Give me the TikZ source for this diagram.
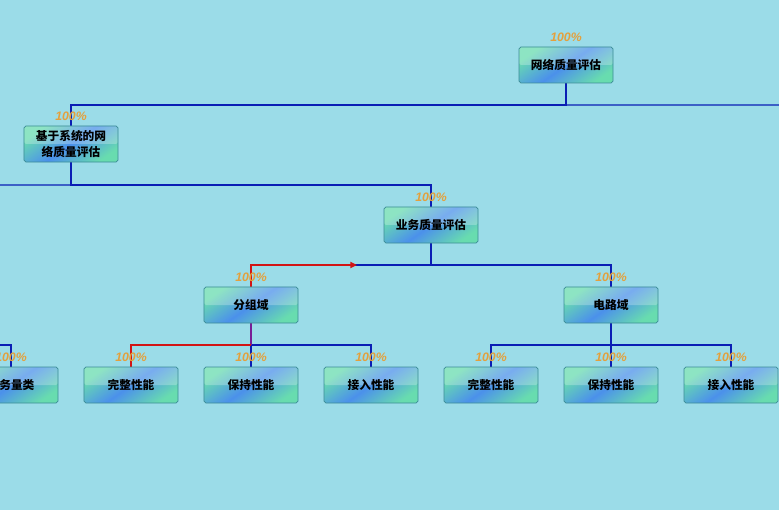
\documentclass[tikz,border=0pt]{standalone}
\usepackage{fontspec}
\newfontfamily\cjk{Noto Sans CJK SC}
\newfontfamily\sofont{Liberation Sans}
\usetikzlibrary{arrows.meta,backgrounds}

\definecolor{nen}{RGB}{155,220,232}
\definecolor{xanhla}{RGB}{96,220,166}
\definecolor{xanhduong}{RGB}{62,132,236}
\definecolor{vien}{RGB}{60,140,150}
\definecolor{daynoi}{RGB}{10,30,180}
\definecolor{dayndo}{RGB}{210,20,20}
\definecolor{camtim}{RGB}{120,30,150}
\definecolor{cam}{RGB}{228,160,60}

\tikzset{
  phantram/.style={font=\sofont\bfseries\itshape\fontsize{10.5}{12}\selectfont,
    text=cam, inner sep=0pt},
  hop/.style={draw=vien, line width=0.6pt, rounded corners=1.6pt,
    minimum width=2.82cm, minimum height=1.08cm, inner sep=0pt, outer sep=0pt,
    top color=xanhla, bottom color=xanhla, middle color=xanhduong, shading angle=35,
    fill opacity=0.85, text opacity=1, align=center,
    font=\cjk\bfseries\fontsize{10}{13.5}\selectfont,
    path picture={\fill[white, opacity=0.25] (path picture bounding box.north west)
      rectangle (path picture bounding box.east);},
    label={[phantram, label distance=0.15cm]90:100\%}},
  lien/.style={draw=daynoi, line width=0.9pt},
  duongdo/.style={draw=dayndo, line width=1.7pt}
}

\begin{document}
\begin{tikzpicture}[x=0.03cm, y=-0.03cm]
    \useasboundingbox (0,0) rectangle (779,510);
    \clip (0,0) rectangle (779,510);

    % 1. Các nút
    \node[hop] (G) at (566,65) {网络质量评估};
    \node[hop] (H) at (71,144) {基于系统的网\\络质量评估};
    \node[hop] (D) at (431,225) {业务质量评估};
    \node[hop] (P) at (251,305) {分组域};
    \node[hop] (M) at (611,305) {电路域};
    \node[hop] (L) at (11,385) {业务量类};
    \node[hop] (P1) at (131,385) {完整性能};
    \node[hop] (P2) at (251,385) {保持性能};
    \node[hop] (P3) at (371,385) {接入性能};
    \node[hop] (M1) at (491,385) {完整性能};
    \node[hop] (M2) at (611,385) {保持性能};
    \node[hop] (M3) at (731,385) {接入性能};

    % Đầu tự do (ra ngoài khung)
    \coordinate (R) at (779,105);
    \coordinate (T) at (0,185);
    \coordinate (T2) at (0,345);
    \coordinate (E) at (357,265);

    \begin{scope}[on background layer]
    % 2. Nền
    \fill[nen] (0,0) rectangle (779,510);

    % 3. Các đường nối
    \draw[lien] (G.south) -- ++(0,22) -| (H.north);
    \draw[lien] (G.south) ++(0,22) -- (R);
    \draw[lien] (H.south) -- ++(0,23) -| (D.north);
    \draw[lien] (H.south) ++(0,23) -- (T);
    \draw[lien] (D.south) -- ++(0,22) -| (P.north);
    \draw[lien] (D.south) -- ++(0,22) -| (M.north);
    \draw[lien] (P.south) -- (P2.north);
    \draw[lien] (P.south) -- ++(0,22) -| (P1.north);
    \draw[lien] (P.south) -- ++(0,22) -| (P3.north);
    \draw[lien] (M.south) -- (M2.north);
    \draw[lien] (M.south) -- ++(0,22) -| (M1.north);
    \draw[lien] (M.south) -- ++(0,22) -| (M3.north);
    \draw[lien] (T2) -| (L.north);

    % 4. Đường đỏ
    \draw[duongdo, -{Triangle[length=0.2cm, width=0.18cm]}] (P.north) -- ++(0,-22) -- (E);
    \draw[lien, draw=camtim, line width=1.2pt] (P.south) -- ++(0,22);
    \draw[duongdo] (P.south) ++(0,22) -| (P1.north);
    \end{scope}
\end{tikzpicture}
\end{document}
